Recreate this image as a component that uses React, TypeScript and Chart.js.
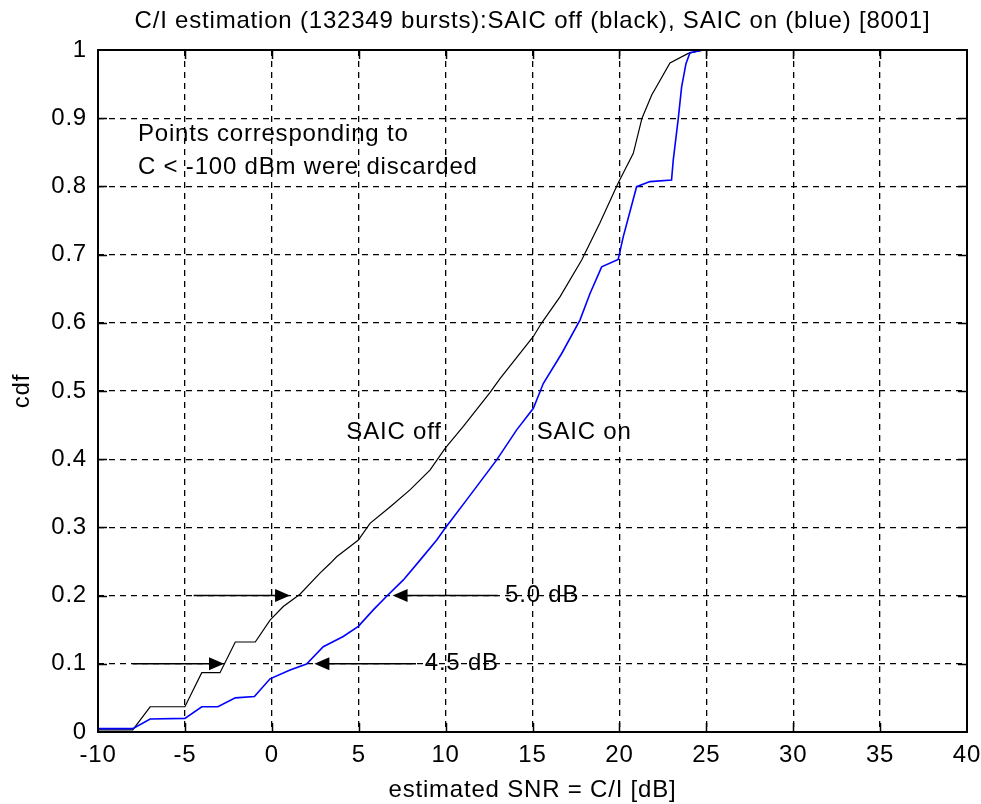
import React, { useEffect, useRef } from 'react';
import { Chart, registerables } from 'chart.js';
Chart.register(...registerables);

// SAIC off (black) cdf
const offX = [-10, -8, -7, -5, -4.03, -2.98, -2.1, -0.95, -0.1, 0.66, 1.62, 2.77, 3.35, 3.73, 4.5, 4.98, 5.65, 6.8, 7.95, 9.1, 9.97, 11.02, 12.55, 13.13, 15.05, 15.53, 16.58, 17.83, 18.87, 19.93, 20.8, 21.3, 21.86, 22.91, 23.96, 24.65, 25, 40];
const offY = [0.003, 0.003, 0.037, 0.037, 0.087, 0.087, 0.132, 0.132, 0.164, 0.184, 0.202, 0.233, 0.247, 0.257, 0.272, 0.2815, 0.306, 0.33, 0.355, 0.384, 0.416, 0.448, 0.4975, 0.518, 0.58, 0.6, 0.638, 0.692, 0.746, 0.805, 0.8485, 0.9, 0.934, 0.981, 0.995, 0.999, 1, 1];

// SAIC on (blue) cdf
const onX = [-10, -8, -7, -5, -4.03, -3.1, -2.1, -1.0, -0.1, 1.05, 2.0, 2.96, 4.11, 4.98, 5.84, 6.61, 7.57, 8.53, 9.49, 9.97, 11.2, 12.94, 14.09, 15.05, 15.62, 16.68, 17.73, 18.31, 18.98, 19.93, 20.22, 20.99, 21.76, 23.0, 23.1, 23.39, 23.58, 23.83, 24.06, 24.83, 40];
const onY = [0.005, 0.005, 0.019, 0.02, 0.037, 0.037, 0.05, 0.052, 0.078, 0.091, 0.0997, 0.125, 0.14, 0.155, 0.179, 0.199, 0.223, 0.252, 0.2815, 0.2987, 0.34, 0.399, 0.443, 0.4746, 0.511, 0.555, 0.604, 0.643, 0.682, 0.693, 0.726, 0.7996, 0.807, 0.8094, 0.839, 0.9, 0.946, 0.98, 0.996, 1.0, 1.0];

// Arrow annotations (data units): tail x, tip x, level y
const arrowTail = [-4.5, 13.0, -8.0, 8.3];
const arrowTip = [1.05, 6.95, -2.75, 2.45];
const arrowLevel = [0.2, 0.2, 0.1, 0.1];

// Text annotations (data units, left-anchored)
const noteTexts = ['Points corresponding to', 'C < -100 dBm were discarded', 'SAIC off', 'SAIC on', '5.0 dB', '4.5 dB'];
const noteX = [-7.7, -7.7, 4.29, 15.24, 13.42, 8.8];
const noteY = [0.877, 0.828, 0.44, 0.44, 0.2, 0.1];

const titleText = 'C/I estimation (132349 bursts):SAIC off (black), SAIC on (blue) [8001]';
const xLabelText = 'estimated SNR = C/I [dB]';
const yLabelText = 'cdf';

const xMin = -10, xMax = 40, xStep = 5;
const yMin = 0, yMax = 1, yStep = 0.1;

const FONT = '"Liberation Sans", Arial, sans-serif';
const FS = 24;
const LS = '0.8px';

const decorPlugin = {
  id: 'decor',
  beforeDraw(chart: any) {
    (chart.ctx as any).letterSpacing = LS;
  },
  afterDatasetsDraw(chart: any) {
    const ctx = chart.ctx;
    const xs = chart.scales.x, ys = chart.scales.y;
    ctx.save();
    // arrows
    ctx.strokeStyle = '#000';
    ctx.fillStyle = '#000';
    ctx.lineWidth = 1.5;
    ctx.setLineDash([]);
    for (let i = 0; i < arrowTail.length; i++) {
      const y = ys.getPixelForValue(arrowLevel[i]);
      const xt = xs.getPixelForValue(arrowTail[i]);
      const xp = xs.getPixelForValue(arrowTip[i]);
      const dir = xp > xt ? 1 : -1;
      ctx.beginPath();
      ctx.moveTo(xt, y);
      ctx.lineTo(xp - dir * 10, y);
      ctx.stroke();
      ctx.beginPath();
      ctx.moveTo(xp, y);
      ctx.lineTo(xp - dir * 15, y - 6.5);
      ctx.lineTo(xp - dir * 15, y + 6.5);
      ctx.closePath();
      ctx.fill();
    }
    // notes
    ctx.font = `${FS}px ${FONT}`;
    ctx.letterSpacing = LS;
    ctx.textAlign = 'left';
    ctx.textBaseline = 'middle';
    for (let i = 0; i < noteTexts.length; i++) {
      ctx.fillText(noteTexts[i], xs.getPixelForValue(noteX[i]), ys.getPixelForValue(noteY[i]));
    }
    ctx.restore();
  },
  afterDraw(chart: any) {
    const ctx = chart.ctx;
    const a = chart.chartArea;
    const xs = chart.scales.x, ys = chart.scales.y;
    ctx.save();
    ctx.strokeStyle = '#000';
    ctx.setLineDash([]);
    // inward ticks
    const tl = 9;
    ctx.beginPath();
    for (let v = xMin + xStep; v < xMax; v += xStep) {
      const px = Math.round(xs.getPixelForValue(v)) + 0.5;
      ctx.moveTo(px, a.bottom); ctx.lineTo(px, a.bottom - tl);
      ctx.moveTo(px, a.top); ctx.lineTo(px, a.top + tl);
    }
    for (let k = 1; k < Math.round((yMax - yMin) / yStep); k++) {
      const py = Math.round(ys.getPixelForValue(yMin + k * yStep)) + 0.5;
      ctx.moveTo(a.left, py); ctx.lineTo(a.left + tl, py);
      ctx.moveTo(a.right, py); ctx.lineTo(a.right - tl, py);
    }
    ctx.lineWidth = 1.5;
    ctx.stroke();
    ctx.lineWidth = 2;
    ctx.strokeRect(a.left, a.top, a.right - a.left, a.bottom - a.top);
    // title and axis labels
    ctx.fillStyle = '#000';
    ctx.font = `${FS}px ${FONT}`;
    ctx.letterSpacing = LS;
    ctx.textAlign = 'center';
    ctx.textBaseline = 'middle';
    const cx = (a.left + a.right) / 2;
    ctx.fillText(titleText, cx, 21);
    ctx.fillText(xLabelText, cx, a.bottom + 58);
    ctx.translate(22, (a.top + a.bottom) / 2);
    ctx.rotate(-Math.PI / 2);
    ctx.fillText(yLabelText, 0, 0);
    ctx.restore();
  },
};

export default function App() {
  const ref = useRef<HTMLCanvasElement>(null);
  useEffect(() => {
    document.body.style.margin = '0';
    const tickFont = { family: FONT, size: FS };
    const chart = new Chart(ref.current as HTMLCanvasElement, {
      type: 'line',
      data: {
        datasets: [
          {
            label: 'SAIC off',
            data: offX.map((x, i) => ({ x, y: offY[i] })),
            borderColor: '#000000',
            borderWidth: 1.2,
            pointRadius: 0,
            tension: 0,
            fill: false,
            clip: 4,
            order: 2,
          },
          {
            label: 'SAIC on',
            data: onX.map((x, i) => ({ x, y: onY[i] })),
            borderColor: '#0000ff',
            borderWidth: 1.6,
            pointRadius: 0,
            tension: 0,
            fill: false,
            clip: 4,
            order: 1,
          },
        ],
      },
      options: {
        animation: false,
        responsive: false,
        devicePixelRatio: 1,
        layout: { padding: { left: 0, right: 14, top: 50, bottom: 0 } },
        plugins: {
          legend: { display: false },
          tooltip: { enabled: false },
          title: { display: false },
        },
        scales: {
          x: {
            type: 'linear',
            min: xMin,
            max: xMax,
            ticks: { stepSize: xStep, color: '#000', font: tickFont, padding: 9, maxRotation: 0, autoSkip: false },
            grid: { color: '#000', lineWidth: 1.3, drawTicks: false },
            border: { display: false, dash: [6, 5] },
            afterFit: (s: any) => { s.height = 72; s.paddingLeft = 0; s.paddingRight = 0; },
          },
          y: {
            type: 'linear',
            min: yMin,
            max: yMax,
            ticks: {
              stepSize: yStep,
              color: '#000',
              font: tickFont,
              padding: 11,
              autoSkip: false,
              callback: (v: any) => String(Math.round(Number(v) * 10) / 10),
            },
            grid: { color: '#000', lineWidth: 1.3, drawTicks: false },
            border: { display: false, dash: [6, 5] },
            afterFit: (s: any) => { s.width = 98; s.paddingTop = 0; s.paddingBottom = 0; },
          },
        },
      },
      plugins: [decorPlugin],
    } as any);
    return () => chart.destroy();
  }, []);
  return (
    <canvas ref={ref} width={981} height={804} style={{ display: 'block', width: 981, height: 804 }} />
  );
}
